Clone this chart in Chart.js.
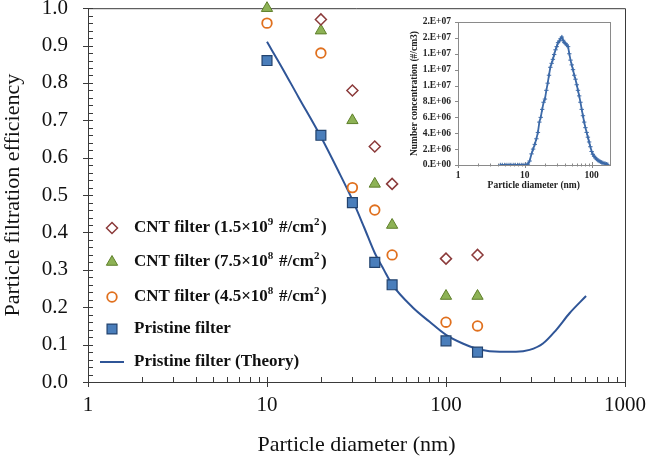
<!DOCTYPE html>
<html><head><meta charset="utf-8">
<script src="https://cdn.jsdelivr.net/npm/chart.js@4/dist/chart.umd.min.js"></script>
<style>
html,body{margin:0;padding:0;background:#fff;}
#wrap{position:relative;width:648px;height:467px;overflow:hidden;}
#main{position:absolute;left:0;top:0;}
#inset{position:absolute;left:400px;top:10px;}
</style></head><body>
<div id="wrap"><canvas id="main" width="648" height="467"></canvas><canvas id="inset" width="224" height="190"></canvas></div>
<script>
// ---------- data ----------
const sizes = [10, 20, 30, 40, 50, 100, 150];
const cnt15e9 = [null, 0.97, 0.78, 0.63, 0.53, 0.33, 0.34];
const cnt75e8 = [1.00, 0.94, 0.70, 0.53, 0.42, 0.23, 0.23];
const cnt45e8 = [0.96, 0.88, 0.52, 0.46, 0.34, 0.16, 0.15];
const pristine = [0.86, 0.66, 0.48, 0.32, 0.26, 0.11, 0.08];

const theoryD = [10, 12, 15, 20, 25, 30, 35, 40, 45, 50, 65, 81, 100, 124, 154, 200, 246, 293, 348, 412, 490, 606];
const theoryE = [0.91, 0.845, 0.762, 0.656, 0.565, 0.487, 0.412, 0.345, 0.300, 0.261, 0.200, 0.161, 0.126, 0.103, 0.087, 0.081, 0.081, 0.086, 0.103, 0.139, 0.184, 0.23];

const xTicks = [1, 10, 100, 1000];
const yTicks = [0, 0.1, 0.2, 0.3, 0.4, 0.5, 0.6, 0.7, 0.8, 0.9, 1.0];

const legendLabels = [
  'CNT filter (1.5×10^9 #/cm^2)',
  'CNT filter (7.5×10^8 #/cm^2)',
  'CNT filter (4.5×10^8 #/cm^2)',
  'Pristine filter',
  'Pristine filter (Theory)'
];

// inset: size distribution
const insetD = [4.3, 4.6, 5.0, 5.4, 5.8, 6.2, 6.7, 7.2, 7.8, 8.4, 9.0, 9.7, 10.4, 11.1, 11.8, 12.6, 13.3, 14.1, 14.9, 15.7, 16.5, 17.3, 18.2, 19.1, 20.0, 21.0, 22.0, 23.0, 24.1, 25.2, 26.3, 27.5, 28.8, 30.0, 31.4, 32.8, 34.3, 35.8, 37.4, 39.0, 40.7, 42.5, 44.4, 46.3, 48.3, 50.4, 52.6, 54.9, 57.3, 59.8, 62.4, 65.1, 68.0, 71.0, 74.1, 77.3, 80.7, 84.2, 87.9, 91.7, 95.7, 99.9, 104.3, 108.9, 113.7, 118.7, 123.9, 129.3, 135.0, 140.9, 147.1, 153.5, 160.2, 167.3, 174.6];
const insetN = [0, 0, 0, 0, 0, 0, 0, 0, 0, 0, 0, 0, 0.02e6, 0.1e6, 0.5e6, 1.4e6, 2.0e6, 2.6e6, 3.3e6, 4.1e6, 5.4e6, 6.0e6, 7.0e6, 7.9e6, 8.3e6, 9.4e6, 10.3e6, 11.3e6, 12.3e6, 12.8e6, 13.3e6, 13.9e6, 14.5e6, 14.9e6, 15.4e6, 15.6e6, 15.9e6, 16.1e6, 15.7e6, 15.4e6, 15.3e6, 15.1e6, 14.9e6, 14.0e6, 13.2e6, 12.6e6, 12.0e6, 11.3e6, 10.8e6, 10.1e6, 9.4e6, 8.7e6, 7.9e6, 7.0e6, 6.2e6, 5.4e6, 4.7e6, 4.1e6, 3.5e6, 2.9e6, 2.3e6, 1.7e6, 1.35e6, 1.1e6, 0.9e6, 0.75e6, 0.6e6, 0.5e6, 0.4e6, 0.33e6, 0.27e6, 0.2e6, 0.15e6, 0.1e6, 0.05e6];
const insetXTicks = [1, 10, 100];
const insetYTicks = [0, 2e6, 4e6, 6e6, 8e6, 10e6, 12e6, 14e6, 16e6, 18e6];

// ---------- styling ----------
const SERIF = "'Liberation Serif','Times New Roman',serif";
const AX = '#3a3a3a';
Chart.defaults.font.family = SERIF;
Chart.defaults.color = '#111';

const styles = [
  {pointStyle: 'rectRot', radius: 5.5, fill: '#ffffff', stroke: '#8B3A3A', bw: 1.5},
  {pointStyle: 'triangle', radius: 6.5, fill: '#8DB255', stroke: '#5E7F2A', bw: 1},
  {pointStyle: 'circle', radius: 4.8, fill: '#ffffff', stroke: '#E0701E', bw: 1.8},
  {pointStyle: 'rect', radius: 7, fill: '#4A7EBB', stroke: '#23436E', bw: 1.2}
];
const LINE_COLOR = '#2F5597';
const seriesVals = [cnt15e9, cnt75e8, cnt45e8, pristine];

function pts(xs, ys) { return xs.map((d, i) => ({x: d, y: ys[i]})).filter(p => p.y !== null); }

const framePlugin = {
  id: 'frame',
  beforeDatasetsDraw(chart) {
    const {ctx, chartArea: a, scales: {x, y}} = chart;
    ctx.save();
    ctx.strokeStyle = AX;
    ctx.lineWidth = 1;
    ctx.beginPath();
    ctx.moveTo(a.left, a.top + 0.5); ctx.lineTo(a.right + 0.5, a.top + 0.5); ctx.lineTo(a.right + 0.5, a.bottom);
    for (let k = 0; k <= 50; k++) {
      const py = Math.round(y.getPixelForValue(k / 50)) + 0.5;
      if (k % 5 === 0) { ctx.moveTo(a.left - 5, py); ctx.lineTo(a.left + 5, py); }
      else { ctx.moveTo(a.left, py); ctx.lineTo(a.left + 5, py); }
    }
    for (let dec = 1; dec <= 1000; dec *= 10) {
      for (let m = 1; m < 10; m++) {
        const v = dec * m; if (v > 1000) break;
        const px = Math.round(x.getPixelForValue(v)) + 0.5;
        if (m === 1) { ctx.moveTo(px, a.bottom - 5); ctx.lineTo(px, a.bottom + 5); }
        else { ctx.moveTo(px, a.bottom); ctx.lineTo(px, a.bottom - 5); }
      }
    }
    ctx.stroke();
    ctx.restore();
  }
};

function drawRich(ctx, text, x, y, size, supSize, supRise) {
  let cx = x;
  let i = 0;
  while (i < text.length) {
    if (text[i] === '^') {
      ctx.font = 'bold ' + supSize + 'px ' + SERIF;
      ctx.fillText(text[i + 1], cx, y - supRise);
      cx += ctx.measureText(text[i + 1]).width + 1.5;
      i += 2;
    } else {
      let j = text.indexOf('^', i); if (j < 0) j = text.length;
      const seg = text.slice(i, j);
      ctx.font = 'bold ' + size + 'px ' + SERIF;
      ctx.fillText(seg, cx, y);
      cx += ctx.measureText(seg).width;
      i = j;
    }
  }
}

const legendPlugin = {
  id: 'customLegend',
  afterDatasetsDraw(chart) {
    const ctx = chart.ctx;
    const rowsY = [228, 262, 297, 329, 362];
    const mx = 112, tx = 134;
    ctx.save();
    for (let k = 0; k < 4; k++) {
      const s = styles[k];
      ctx.fillStyle = s.fill; ctx.strokeStyle = s.stroke; ctx.lineWidth = s.bw;
      Chart.helpers.drawPoint(ctx, {pointStyle: s.pointStyle, radius: s.radius, rotation: 0, borderWidth: s.bw}, mx, rowsY[k]);
    }
    ctx.strokeStyle = LINE_COLOR; ctx.lineWidth = 2;
    ctx.beginPath(); ctx.moveTo(100, rowsY[4]); ctx.lineTo(124, rowsY[4]); ctx.stroke();
    ctx.fillStyle = '#111';
    ctx.textBaseline = 'middle';
    ctx.textAlign = 'left';
    for (let k = 0; k < 5; k++) drawRich(ctx, legendLabels[k], tx, rowsY[k], 17, 11, 6);
    ctx.restore();
  }
};

const datasets = seriesVals.map((vals, k) => ({
  label: legendLabels[k],
  data: pts(sizes, vals),
  pointStyle: styles[k].pointStyle,
  pointRadius: styles[k].radius,
  backgroundColor: styles[k].fill,
  borderColor: styles[k].stroke,
  borderWidth: styles[k].bw,
  showLine: false,
  clip: false
}));
datasets.push({
  type: 'line',
  label: legendLabels[4],
  data: pts(theoryD, theoryE),
  borderColor: LINE_COLOR,
  borderWidth: 2,
  pointRadius: 0,
  cubicInterpolationMode: 'monotone',
  fill: false,
  clip: false
});

new Chart(document.getElementById('main'), {
  type: 'scatter',
  data: {datasets},
  options: {
    responsive: false, animation: false, events: [],
    layout: {padding: {left: 0, right: 23, top: 8, bottom: 0}},
    plugins: {legend: {display: false}, tooltip: {enabled: false}},
    scales: {
      x: {
        type: 'logarithmic', min: 1, max: 1000,
        afterBuildTicks: s => { s.ticks = xTicks.map(v => ({value: v})); },
        afterFit: s => { s.height = 85; s.paddingLeft = 0; s.paddingRight = 0; },
        grid: {display: true, drawOnChartArea: false, drawTicks: false},
        border: {display: true, color: AX, width: 1},
        ticks: {font: {size: 21}, color: '#111', padding: 11, maxRotation: 0, autoSkip: false, callback: v => String(v)},
        title: {display: true, text: 'Particle diameter (nm)', font: {size: 22}, color: '#111', padding: {top: 0, bottom: 9}}
      },
      y: {
        min: 0, max: 1,
        afterBuildTicks: s => { s.ticks = yTicks.map(v => ({value: v})); },
        afterFit: s => { s.width = 88; s.paddingTop = 0; s.paddingBottom = 0; },
        grid: {display: true, drawOnChartArea: false, drawTicks: false},
        border: {display: true, color: AX, width: 1},
        ticks: {font: {size: 21}, color: '#111', padding: 20, autoSkip: false, callback: v => Number(v).toFixed(1)},
        title: {display: true, text: 'Particle filtration efficiency', font: {size: 22}, color: '#111', padding: {top: 0, bottom: 0}}
      }
    }
  },
  plugins: [framePlugin, legendPlugin]
});

// ---------- inset ----------
const IAX = '#8a8a8a';
function excelExp(v) {
  if (v === 0) return '0.E+00';
  const e = Math.floor(Math.log10(v));
  const m = Math.round(v / Math.pow(10, e));
  return m + '.E+' + String(e).padStart(2, '0');
}
const insetFrame = {
  id: 'insetFrame',
  beforeDatasetsDraw(chart) {
    const {ctx, chartArea: a, scales: {x, y}} = chart;
    ctx.save();
    ctx.strokeStyle = IAX; ctx.lineWidth = 1;
    ctx.strokeRect(Math.round(a.left) + 0.5, Math.round(a.top) + 0.5, Math.round(a.right - a.left), Math.round(a.bottom - a.top));
    ctx.beginPath();
    insetYTicks.forEach(v => {
      const py = Math.round(y.getPixelForValue(v)) + 0.5;
      ctx.moveTo(a.left - 3, py); ctx.lineTo(a.left, py);
    });
    for (let dec = 1; dec <= 100; dec *= 10) {
      for (let m = 1; m < 10; m++) {
        const v = dec * m; if (v > x.max) break;
        const px = Math.round(x.getPixelForValue(v)) + 0.5;
        const h = (m === 1) ? 3 : 1.5;
        ctx.moveTo(px, a.bottom - h); ctx.lineTo(px, a.bottom + h);
      }
    }
    ctx.stroke();
    ctx.restore();
  }
};

new Chart(document.getElementById('inset'), {
  type: 'line',
  data: {datasets: [{
    data: pts(insetD, insetN),
    borderColor: '#3D6AA8',
    backgroundColor: '#3D6AA8',
    borderWidth: 1.8,
    pointStyle: 'cross',
    pointRadius: 2.2,
    pointBorderWidth: 1,
    fill: false,
    tension: 0
  }]},
  options: {
    responsive: false, animation: false, events: [],
    layout: {padding: {left: 0, right: 14.5, top: 12, bottom: 0}},
    plugins: {legend: {display: false}, tooltip: {enabled: false}},
    scales: {
      x: {
        type: 'logarithmic', min: 1, max: 185,
        afterBuildTicks: s => { s.ticks = insetXTicks.map(v => ({value: v})); },
        afterFit: s => { s.height = 35; s.paddingLeft = 0; s.paddingRight = 0; },
        grid: {display: false, drawTicks: false},
        border: {display: true, color: IAX, width: 1},
        ticks: {font: {size: 9.5, weight: 'bold'}, color: '#222', padding: 5, maxRotation: 0, autoSkip: false, callback: v => String(v)},
        title: {display: true, text: 'Particle diameter (nm)', font: {size: 9.5, weight: 'bold'}, color: '#222', padding: {top: 0, bottom: 9}}
      },
      y: {
        min: 0, max: 18e6,
        afterBuildTicks: s => { s.ticks = insetYTicks.map(v => ({value: v})); },
        afterFit: s => { s.width = 58; s.paddingTop = 0; s.paddingBottom = 0; },
        grid: {display: false, drawTicks: false},
        border: {display: true, color: IAX, width: 1},
        ticks: {font: {size: 9.5, weight: 'bold'}, color: '#222', padding: 7, autoSkip: false, callback: v => excelExp(v)},
        title: {display: true, text: 'Number concentration (#/cm3)', font: {size: 9.5, weight: 'bold'}, color: '#222', padding: {top: 9, bottom: 0}}
      }
    }
  },
  plugins: [insetFrame]
});
</script>
</body></html>
